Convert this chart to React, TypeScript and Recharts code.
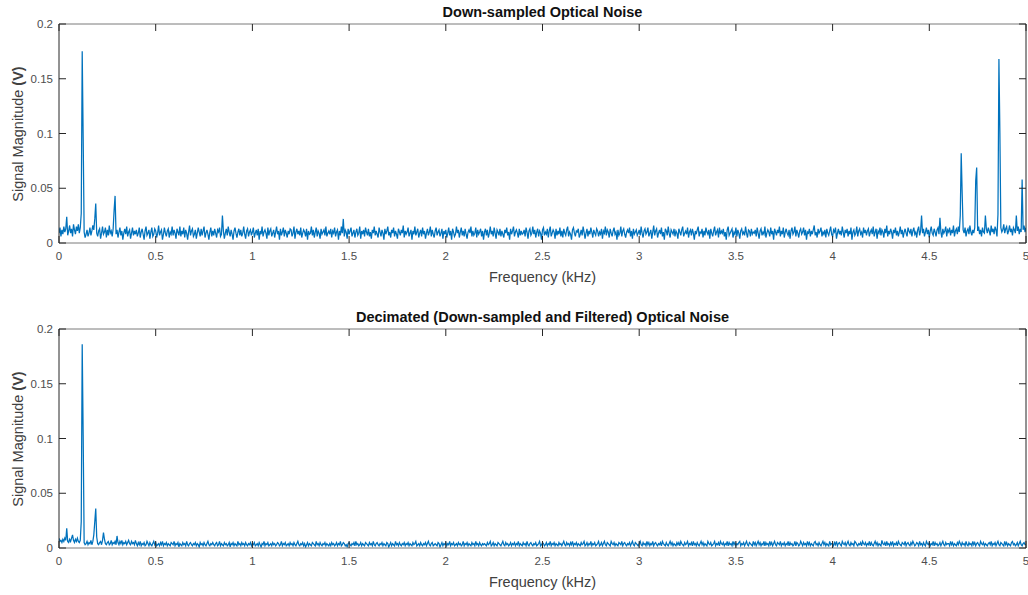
import React from 'react';
import { LineChart, Line, XAxis, YAxis } from 'recharts';

// Frequency bins are 0.005 kHz apart, from 0 to 5 kHz (1001 bins)
const FREQ_STEP_KHZ = 0.005;

// Down-sampled optical noise magnitude, in mV, 40 bins per row
const downsampledMv: number[] = [
  9, 14, 6, 12, 8, 15, 10, 13, 24, 7, 11, 16, 9, 13, 6, 17, 12, 8, 15, 11, 17, 9, 14, 27, 175, 96, 10, 5, 8, 12, 6, 9, 14, 7, 11, 16, 12, 22, 36, 9,
  6, 11, 13, 4, 9, 15, 8, 10, 14, 5, 12, 7, 16, 9, 11, 6, 13, 30, 43, 8, 12, 5, 10, 14, 7, 11, 3, 9, 13, 8, 15, 6, 10, 12, 4, 9, 14, 7, 11, 8,
  12, 6, 9, 14, 5, 10, 13, 8, 3, 11, 15, 7, 9, 12, 4, 10, 14, 6, 8, 13, 11, 5, 9, 16, 7, 10, 12, 3, 8, 14, 9, 6, 11, 13, 5, 10, 8, 15, 7, 12,
  9, 4, 13, 10, 7, 15, 6, 11, 8, 14, 5, 12, 9, 3, 10, 16, 7, 11, 13, 6, 8, 12, 4, 9, 14, 10, 6, 13, 7, 11, 15, 5, 9, 12, 8, 3, 10, 14, 6, 11,
  7, 13, 9, 5, 12, 10, 14, 6, 8, 25, 11, 4, 9, 13, 7, 15, 10, 6, 12, 8, 3, 11, 14, 9, 5, 10, 13, 7, 12, 6, 9, 15, 8, 4, 11, 13, 6, 10, 12, 7,
  10, 14, 5, 9, 12, 7, 13, 3, 11, 8, 15, 6, 10, 12, 9, 4, 14, 7, 11, 13, 6, 9, 12, 5, 10, 15, 8, 11, 3, 13, 7, 10, 14, 6, 12, 9, 5, 11, 8, 13,
  12, 6, 9, 15, 4, 10, 13, 8, 11, 7, 14, 5, 9, 12, 10, 6, 13, 3, 11, 8, 9, 15, 7, 12, 5, 10, 14, 6, 11, 9, 4, 13, 8, 10, 12, 7, 15, 6, 9, 11,
  8, 13, 5, 11, 9, 14, 6, 10, 12, 3, 11, 7, 15, 9, 22, 6, 12, 10, 4, 13, 8, 11, 14, 6, 9, 12, 5, 10, 13, 7, 9, 15, 4, 11, 8, 12, 6, 14, 10, 7,
  13, 6, 10, 4, 12, 9, 15, 7, 11, 8, 5, 14, 10, 6, 12, 9, 3, 13, 8, 11, 15, 7, 10, 5, 12, 9, 14, 6, 11, 8, 4, 13, 10, 7, 12, 9, 16, 5, 11, 8,
  10, 14, 6, 9, 12, 3, 11, 8, 15, 7, 10, 13, 5, 9, 12, 6, 14, 8, 11, 4, 9, 13, 7, 10, 15, 6, 12, 8, 5, 11, 14, 7, 10, 12, 6, 9, 13, 4, 11, 8,
  12, 5, 9, 14, 7, 11, 3, 13, 10, 6, 8, 15, 9, 12, 5, 10, 14, 7, 11, 6, 13, 8, 4, 10, 12, 9, 15, 6, 11, 7, 9, 14, 5, 12, 8, 10, 13, 6, 11, 3,
  10, 13, 7, 12, 5, 9, 15, 8, 11, 6, 14, 9, 4, 12, 10, 7, 13, 6, 11, 8, 5, 12, 9, 14, 7, 10, 3, 13, 8, 11, 15, 6, 10, 12, 9, 5, 13, 7, 11, 8,
  9, 12, 6, 14, 10, 4, 11, 13, 7, 9, 15, 8, 12, 5, 10, 13, 6, 11, 9, 3, 12, 14, 7, 10, 8, 13, 5, 11, 15, 6, 9, 12, 10, 4, 13, 7, 11, 8, 14, 6,
  11, 5, 13, 9, 7, 12, 15, 6, 10, 8, 3, 12, 14, 9, 6, 11, 10, 13, 5, 8, 12, 7, 15, 10, 4, 9, 13, 6, 11, 8, 14, 10, 5, 12, 9, 7, 13, 11, 6, 10,
  8, 13, 4, 11, 9, 15, 7, 12, 10, 5, 13, 9, 6, 11, 14, 8, 10, 3, 12, 7, 9, 15, 6, 11, 13, 8, 5, 10, 12, 9, 14, 6, 11, 4, 13, 8, 10, 12, 7, 9,
  12, 7, 15, 9, 5, 11, 13, 8, 10, 14, 6, 9, 12, 4, 10, 16, 7, 11, 13, 5, 9, 12, 8, 14, 6, 10, 3, 13, 11, 7, 15, 9, 5, 12, 10, 8, 13, 6, 11, 9,
  4, 13, 10, 7, 12, 15, 6, 9, 11, 8, 14, 5, 10, 12, 7, 13, 9, 3, 11, 8, 12, 15, 6, 10, 9, 13, 5, 11, 7, 14, 10, 8, 12, 4, 13, 9, 6, 11, 15, 7,
  10, 12, 5, 14, 8, 11, 9, 13, 6, 10, 3, 12, 15, 7, 9, 11, 13, 5, 10, 8, 14, 6, 12, 9, 4, 11, 13, 8, 10, 7, 15, 9, 5, 12, 11, 6, 13, 8, 10, 9,
  12, 6, 14, 9, 4, 11, 13, 7, 10, 8, 15, 5, 9, 12, 10, 6, 14, 8, 11, 3, 13, 10, 7, 12, 9, 15, 6, 11, 8, 14, 5, 10, 13, 9, 7, 12, 4, 11, 14, 8,
  10, 15, 6, 12, 9, 5, 11, 13, 8, 10, 14, 7, 12, 3, 10, 9, 13, 6, 11, 8, 12, 16, 7, 10, 5, 13, 9, 11, 14, 6, 10, 8, 12, 5, 13, 9, 7, 11, 15, 8,
  6, 12, 10, 14, 4, 9, 13, 8, 11, 7, 15, 10, 5, 12, 9, 13, 6, 11, 8, 14, 3, 10, 12, 7, 9, 15, 6, 11, 13, 8, 10, 5, 14, 9, 12, 7, 11, 13, 6, 10,
  12, 8, 15, 6, 10, 13, 4, 11, 9, 14, 7, 12, 10, 5, 13, 9, 16, 6, 11, 8, 13, 10, 4, 12, 9, 14, 7, 11, 6, 10, 15, 8, 12, 5, 10, 13, 9, 6, 14, 11,
  9, 13, 6, 11, 14, 8, 10, 5, 12, 15, 7, 11, 25, 9, 13, 6, 10, 14, 8, 12, 5, 11, 15, 9, 7, 13, 10, 6, 12, 14, 8, 23, 10, 5, 13, 9, 11, 15, 6, 12,
  10, 14, 7, 12, 9, 16, 6, 11, 13, 8, 15, 10, 25, 82, 45, 12, 9, 14, 6, 11, 13, 8, 16, 10, 7, 12, 9, 14, 57, 69, 11, 15, 8, 12, 6, 14, 10, 9, 25, 13,
  9, 14, 11, 7, 16, 10, 13, 8, 15, 12, 6, 26, 168, 100, 14, 10, 12, 17, 9, 13, 15, 8, 11, 16, 10, 13, 7, 14, 12, 9, 25, 11, 15, 8, 13, 10, 58, 12, 16, 10,
  14,
];

// Decimated (down-sampled and filtered) optical noise magnitude, in mV, 40 bins per row
const decimatedMv: number[] = [
  9, 6, 7, 5, 8, 6, 9, 7, 18, 6, 5, 8, 6, 9, 12, 7, 5, 8, 6, 9, 6, 5, 7, 24, 186, 103, 5, 3, 4, 6, 3, 5, 4, 7, 3, 6, 12, 24, 36, 10,
  4, 3, 5, 6, 3, 7, 14, 8, 4, 3, 5, 6, 3, 4, 7, 3, 5, 4, 6, 3, 11, 5, 3, 6, 4, 7, 3, 5, 4, 6, 3, 5, 7, 4, 3, 6, 4, 5, 3, 7,
  4, 2, 5, 3, 6, 2, 4, 3, 5, 2, 3, 6, 4, 2, 5, 3, 2, 4, 6, 3, 5, 2, 3, 4, 2, 5, 3, 6, 2, 4, 3, 5, 2, 4, 3, 2, 5, 4, 3, 6,
  2, 4, 3, 5, 1, 4, 3, 2, 5, 3, 4, 2, 6, 3, 2, 4, 5, 3, 2, 4, 3, 5, 2, 4, 3, 1, 5, 3, 4, 2, 5, 3, 2, 4, 6, 3, 2, 4, 3, 5,
  3, 2, 4, 5, 2, 3, 6, 2, 4, 3, 2, 5, 3, 4, 2, 3, 5, 1, 4, 3, 5, 2, 4, 3, 2, 6, 3, 4, 2, 5, 3, 4, 2, 5, 3, 2, 4, 3, 5, 2,
  4, 3, 5, 2, 3, 4, 2, 5, 3, 1, 4, 3, 6, 2, 4, 3, 5, 2, 3, 4, 2, 5, 3, 4, 2, 3, 5, 4, 2, 3, 6, 2, 4, 3, 5, 2, 3, 4, 2, 5,
  3, 4, 2, 5, 3, 2, 4, 6, 3, 2, 4, 3, 5, 2, 4, 1, 3, 5, 2, 4, 3, 2, 5, 4, 3, 2, 6, 3, 4, 2, 5, 3, 2, 4, 3, 5, 2, 4, 3, 2,
  4, 2, 5, 3, 4, 2, 3, 5, 2, 4, 3, 6, 2, 3, 5, 4, 2, 3, 1, 4, 5, 3, 2, 4, 3, 5, 2, 6, 3, 4, 2, 3, 5, 2, 4, 3, 2, 5, 4, 3,
  2, 5, 3, 4, 2, 6, 3, 2, 4, 5, 3, 2, 4, 3, 5, 2, 4, 3, 2, 5, 4, 1, 3, 5, 2, 4, 3, 2, 6, 3, 4, 2, 5, 3, 2, 4, 3, 5, 2, 4,
  3, 5, 2, 4, 3, 2, 5, 3, 4, 6, 2, 3, 4, 2, 5, 3, 2, 4, 3, 5, 2, 4, 6, 3, 2, 4, 5, 2, 3, 4, 3, 2, 5, 4, 1, 3, 5, 2, 4, 3,
  5, 2, 4, 3, 6, 2, 4, 3, 5, 2, 3, 4, 2, 5, 3, 4, 2, 3, 6, 2, 4, 3, 5, 2, 4, 3, 2, 5, 3, 4, 2, 6, 3, 4, 2, 5, 3, 2, 4, 3,
  4, 3, 2, 5, 3, 4, 6, 2, 3, 5, 2, 4, 3, 2, 5, 4, 3, 2, 4, 6, 3, 2, 5, 3, 4, 2, 3, 5, 2, 4, 3, 5, 2, 4, 3, 6, 2, 4, 3, 2,
  5, 3, 4, 2, 6, 3, 2, 4, 5, 3, 2, 4, 3, 5, 2, 3, 4, 6, 2, 3, 5, 4, 2, 3, 5, 2, 4, 3, 6, 2, 4, 3, 5, 2, 4, 3, 2, 5, 3, 4,
  2, 4, 6, 3, 2, 5, 3, 4, 2, 5, 3, 6, 2, 4, 3, 5, 2, 4, 3, 2, 5, 3, 4, 6, 2, 3, 5, 2, 4, 3, 6, 2, 4, 3, 5, 2, 3, 4, 6, 2,
  3, 5, 2, 4, 6, 3, 2, 5, 4, 3, 2, 6, 4, 3, 5, 2, 4, 3, 2, 5, 4, 3, 6, 2, 4, 5, 3, 2, 4, 3, 5, 2, 4, 6, 3, 2, 5, 4, 3, 2,
  4, 6, 3, 2, 5, 3, 4, 2, 6, 3, 5, 2, 4, 3, 6, 2, 4, 5, 3, 2, 4, 3, 5, 2, 6, 4, 3, 2, 5, 3, 2, 4, 6, 3, 5, 2, 4, 3, 2, 5,
  3, 5, 2, 6, 4, 3, 2, 5, 3, 4, 6, 2, 4, 3, 5, 2, 6, 3, 4, 2, 5, 3, 2, 4, 6, 3, 5, 2, 4, 3, 2, 6, 4, 3, 5, 2, 3, 4, 6, 2,
  4, 3, 5, 2, 6, 4, 3, 5, 2, 4, 3, 6, 2, 5, 3, 4, 2, 6, 3, 5, 2, 4, 3, 5, 6, 2, 4, 3, 5, 2, 4, 6, 3, 2, 5, 4, 3, 2, 6, 3,
  5, 2, 4, 6, 3, 5, 2, 4, 3, 6, 2, 5, 3, 4, 2, 6, 3, 5, 2, 4, 6, 3, 2, 5, 4, 3, 6, 2, 4, 3, 5, 2, 4, 3, 6, 2, 5, 3, 4, 2,
  3, 6, 2, 5, 4, 2, 3, 6, 4, 2, 5, 3, 4, 2, 6, 3, 5, 2, 4, 3, 2, 5, 6, 3, 4, 2, 5, 3, 2, 4, 6, 3, 5, 2, 4, 3, 2, 6, 3, 4,
  4, 2, 5, 3, 6, 2, 4, 5, 3, 2, 6, 4, 3, 5, 2, 4, 6, 3, 2, 5, 3, 4, 2, 6, 5, 3, 2, 4, 3, 5, 2, 6, 4, 3, 5, 2, 4, 3, 6, 2,
  5, 3, 2, 4, 6, 3, 5, 2, 4, 3, 2, 7, 4, 3, 5, 2, 6, 3, 4, 2, 5, 3, 6, 2, 4, 3, 5, 2, 6, 4, 3, 2, 5, 4, 3, 6, 2, 4, 5, 3,
  2, 5, 3, 6, 4, 2, 3, 5, 4, 2, 6, 3, 4, 2, 5, 3, 2, 6, 4, 3, 5, 2, 4, 3, 6, 2, 5, 3, 4, 2, 3, 5, 2, 4, 6, 3, 2, 5, 3, 4,
  4, 2, 6, 3, 5, 2, 4, 3, 2, 5, 3, 6, 4, 2, 5, 3, 4, 2, 6, 3, 2, 5, 3, 4, 2, 6, 3, 5, 2, 4, 5, 3, 2, 6, 4, 3, 5, 2, 4, 3,
  2, 4, 5, 3, 6, 2, 4, 3, 5, 2, 4, 6, 3, 2, 5, 4, 3, 2, 6, 3, 5, 2, 4, 3, 2, 5, 6, 3, 4, 2, 3, 5, 2, 4, 6, 3, 2, 4, 5, 3,
  3,
];

const xTicks: number[] = [0, 0.5, 1, 1.5, 2, 2.5, 3, 3.5, 4, 4.5, 5];
const yTicks: number[] = [0, 0.05, 0.1, 0.15, 0.2];

const topTitle = 'Down-sampled Optical Noise';
const bottomTitle = 'Decimated (Down-sampled and Filtered) Optical Noise';
const xLabel = 'Frequency (kHz)';
const yLabelMain = 'Signal Magnitude ';
const yLabelUnit = '(V)';

const buildRows = (mv: number[]) =>
  mv.map((value, i) => ({ f: Number((i * FREQ_STEP_KHZ).toFixed(3)), v: value / 1000 }));

const FONT = '"Liberation Sans", Arial, Helvetica, sans-serif';
const WIDTH = 1028;
const PLOT_TOP = 24;
const PLOT_BOTTOM = 243;
const PLOT_LEFT = 59;
const PLOT_RIGHT = 1026;
const X_AXIS_H = 40;
const TICK_LEN = 7;
const TICK_COLOR = '#262626';
const H_BOX_COLOR = '#7a7a7a';
const V_BOX_COLOR = '#262626';
const LABEL_COLOR = '#4d4d4d';

const BottomTick = (props: any) => {
  const { x, payload } = props;
  return (
    <g>
      <line x1={x} x2={x} y1={PLOT_BOTTOM} y2={PLOT_BOTTOM - TICK_LEN} stroke={TICK_COLOR} />
      <text x={x} y={PLOT_BOTTOM + 9} dy="0.71em" textAnchor="middle" fill={LABEL_COLOR} fontSize={11.5} fontFamily={FONT}>
        {String(payload.value)}
      </text>
    </g>
  );
};

const TopTick = (props: any) => {
  const { x } = props;
  return <line x1={x} x2={x} y1={PLOT_TOP} y2={PLOT_TOP + TICK_LEN} stroke={TICK_COLOR} />;
};

const LeftTick = (props: any) => {
  const { y, payload } = props;
  return (
    <g>
      <line x1={PLOT_LEFT} x2={PLOT_LEFT + TICK_LEN} y1={y} y2={y} stroke={TICK_COLOR} />
      <text x={PLOT_LEFT - 6} y={y} dy="0.355em" textAnchor="end" fill={LABEL_COLOR} fontSize={11.5} fontFamily={FONT}>
        {String(payload.value)}
      </text>
    </g>
  );
};

const RightTick = (props: any) => {
  const { y } = props;
  return <line x1={PLOT_RIGHT} x2={PLOT_RIGHT - TICK_LEN} y1={y} y2={y} stroke={TICK_COLOR} />;
};

function Panel({ rows, title, height, top }: { rows: { f: number; v: number }[]; title: string; height: number; top: number }) {
  return (
    <div style={{ position: 'absolute', left: 0, top, width: WIDTH, height }}>
      <LineChart
        width={WIDTH}
        height={height}
        data={rows}
        margin={{ top: PLOT_TOP - 1, right: WIDTH - PLOT_RIGHT - 1, left: 0, bottom: height - PLOT_BOTTOM - X_AXIS_H }}
      >
        <XAxis
          xAxisId="b"
          dataKey="f"
          type="number"
          domain={[0, 5]}
          ticks={xTicks}
          interval={0}
          allowDataOverflow
          height={X_AXIS_H}
          tickLine={false}
          axisLine={{ stroke: H_BOX_COLOR }}
          tick={<BottomTick />}
        />
        <XAxis
          xAxisId="t"
          orientation="top"
          dataKey="f"
          type="number"
          domain={[0, 5]}
          ticks={xTicks}
          interval={0}
          allowDataOverflow
          height={1}
          tickLine={false}
          axisLine={{ stroke: H_BOX_COLOR }}
          tick={<TopTick />}
        />
        <YAxis
          yAxisId="l"
          type="number"
          domain={[0, 0.2]}
          ticks={yTicks}
          interval={0}
          allowDataOverflow
          width={PLOT_LEFT}
          tickLine={false}
          axisLine={{ stroke: V_BOX_COLOR }}
          tick={<LeftTick />}
        />
        <YAxis
          yAxisId="r"
          orientation="right"
          type="number"
          domain={[0, 0.2]}
          ticks={yTicks}
          interval={0}
          allowDataOverflow
          width={1}
          tickLine={false}
          axisLine={{ stroke: V_BOX_COLOR }}
          tick={<RightTick />}
        />
        <Line
          xAxisId="b"
          yAxisId="l"
          type="linear"
          dataKey="v"
          stroke="#0072BD"
          strokeWidth={1.25}
          dot={false}
          activeDot={false}
          isAnimationActive={false}
        />
        <Line
          xAxisId="t"
          yAxisId="r"
          type="linear"
          dataKey="v"
          stroke="none"
          strokeOpacity={0}
          dot={false}
          activeDot={false}
          legendType="none"
          isAnimationActive={false}
        />
      </LineChart>
      <div
        style={{
          position: 'absolute', left: PLOT_LEFT, width: PLOT_RIGHT - PLOT_LEFT, top: 4,
          textAlign: 'center', fontFamily: FONT, fontSize: 14.5, fontWeight: 'bold',
          lineHeight: '16px', color: '#111', whiteSpace: 'nowrap',
        }}
      >
        {title}
      </div>
      <div
        style={{
          position: 'absolute', left: PLOT_LEFT, width: PLOT_RIGHT - PLOT_LEFT, top: PLOT_BOTTOM + 26,
          textAlign: 'center', fontFamily: FONT, fontSize: 14.5, lineHeight: '16px',
          color: '#404040', whiteSpace: 'nowrap',
        }}
      >
        {xLabel}
      </div>
      <div
        style={{
          position: 'absolute', left: 18, top: (PLOT_TOP + PLOT_BOTTOM) / 2,
          transform: 'translate(-50%, -50%) rotate(-90deg)',
          fontFamily: FONT, fontSize: 14.5, lineHeight: '16px', color: '#404040', whiteSpace: 'nowrap',
        }}
      >
        {yLabelMain}
        <b>{yLabelUnit}</b>
      </div>
    </div>
  );
}

export default function App() {
  const topRows = buildRows(downsampledMv);
  const bottomRows = buildRows(decimatedMv);
  return (
    <div style={{ position: 'absolute', left: 0, top: 0, width: WIDTH, height: 595, background: '#fff' }}>
      <Panel rows={topRows} title={topTitle} height={305} top={0} />
      <Panel rows={bottomRows} title={bottomTitle} height={290} top={305} />
    </div>
  );
}
